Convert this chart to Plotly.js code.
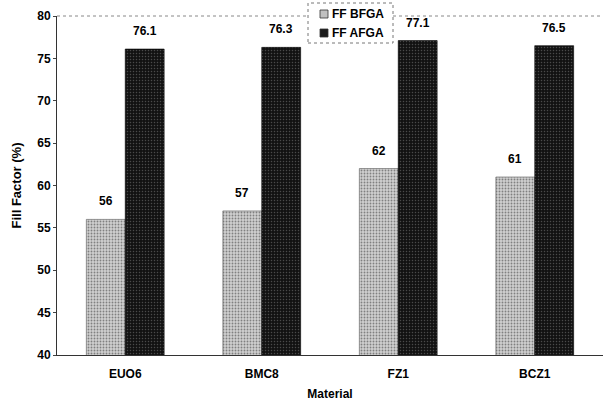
<!DOCTYPE html>
<html><head><meta charset="utf-8">
<script src="https://cdn.plot.ly/plotly-3.0.1.min.js"></script>
<style>body{margin:0;background:#fff}#c{width:605px;height:401px}</style>
</head><body><div id="c"></div>
<script>
var categories = ["EUO6", "BMC8", "FZ1", "BCZ1"];
var ffBFGA = [56, 57, 62, 61];
var ffAFGA = [76.1, 76.3, 77.1, 76.5];
var bfgaLabels = ["56", "57", "62", "61"];
var afgaLabels = ["76.1", "76.3", "77.1", "76.5"];
var seriesNames = ["FF BFGA", "FF AFGA"];
var seriesColors = ["#c0c0c0", "#1c1c1c"];
var yTicks = [40, 45, 50, 55, 60, 65, 70, 75, 80];

var F = "Liberation Sans, Arial, sans-serif";
var GAP = 0.43;
var traces = [
  {type: "bar", name: seriesNames[0], x: categories, y: ffBFGA, showlegend: false,
   marker: {color: seriesColors[0], line: {color: "#555", width: 0.6},
            pattern: {shape: ".", fgcolor: "#808080", bgcolor: "#d0d0d0", size: 3, solidity: 0.3}}},
  {type: "bar", name: seriesNames[1], x: categories, y: ffAFGA, showlegend: false,
   marker: {color: seriesColors[1], line: {color: "#000", width: 0.6},
            pattern: {shape: ".", fgcolor: "#4a4a4a", bgcolor: "#121212", size: 3, solidity: 0.2}}}
];

var annotations = [];
var bw = (1 - GAP) / 2;
var offs = [-bw / 2, bw / 2];
[bfgaLabels, afgaLabels].forEach(function (labs, s) {
  var vals = s === 0 ? ffBFGA : ffAFGA;
  labs.forEach(function (t, i) {
    annotations.push({x: i + offs[s], y: vals[i], xref: "x", yref: "y", text: "<b>" + t + "</b>",
      showarrow: false, yanchor: "bottom", yshift: 9,
      font: {family: F, size: 12, color: "#000"}});
  });
});

// legend box (pixel -> paper helpers)
var L = 57, T = 16, PW = 546, PH = 339;
function px(v) { return (v - L) / PW; }
function py(v) { return (T + PH - v) / PH; }
var shapes = [
  {type: "line", xref: "paper", yref: "paper", x0: 0, x1: 1, y0: 1, y1: 1,
   line: {color: "#888", width: 1, dash: "dot"}},
  {type: "rect", xref: "paper", yref: "paper", x0: px(308), x1: px(393), y0: py(43), y1: py(3),
   fillcolor: "#fff", line: {color: "#777", width: 1, dash: "dot"}, layer: "above"}
];
seriesNames.forEach(function (n, k) {
  var cy = 14 + k * 19;
  shapes.push({type: "rect", xref: "paper", yref: "paper", x0: px(320), x1: px(328), y0: py(cy + 4), y1: py(cy - 4),
    fillcolor: seriesColors[k], line: {color: "#333", width: 0.8}, layer: "above"});
  annotations.push({xref: "paper", yref: "paper", x: px(330), y: py(cy), xanchor: "left", yanchor: "middle",
    text: "<b>" + n + "</b>", showarrow: false, font: {family: F, size: 12, color: "#000"}});
});

var layout = {
  width: 605, height: 401,
  margin: {l: 57, r: 2, t: 16, b: 46},
  paper_bgcolor: "#fff", plot_bgcolor: "#fff",
  barmode: "group", bargap: GAP, bargroupgap: 0,
  showlegend: false,
  xaxis: {type: "category", range: [-0.5, 3.5], showline: true, linecolor: "#333", linewidth: 1,
          ticks: "", ticklabelstandoff: 8, tickfont: {family: F, size: 12, color: "#000", weight: "bold"},
          title: {text: "<b>Material</b>", font: {family: F, size: 12, color: "#000"}, standoff: 10},
          showgrid: false, zeroline: false},
  yaxis: {range: [40, 80], tickvals: yTicks, ticktext: yTicks.map(String),
          showline: true, linecolor: "#333", linewidth: 1, ticks: "outside", ticklen: 3,
          tickfont: {family: F, size: 12, color: "#000", weight: "bold"},
          title: {text: "<b>Fill Factor (%)</b>", font: {family: F, size: 13, color: "#000"}, standoff: 12},
          showgrid: false, zeroline: false},
  shapes: shapes,
  annotations: annotations
};
Plotly.newPlot("c", traces, layout, {staticPlot: true, displayModeBar: false});
</script></body></html>
